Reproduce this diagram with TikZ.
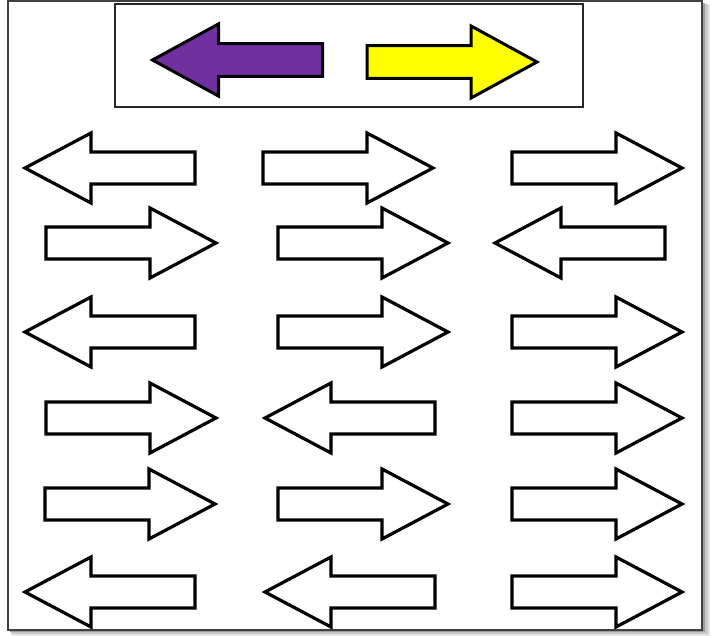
\documentclass[tikz,border=0pt]{standalone}
\usetikzlibrary{calc}
\definecolor{arrpurple}{HTML}{7030A0}
\definecolor{arryellow}{HTML}{FFFF00}
\def\arrfill{white}
\def\arrlw{3.2pt}
\tikzset{
  x=1pt,y=-1pt,
  arrline/.style={draw=black,line width=\arrlw,line join=miter,fill=\arrfill},
  rarr/.pic={\path[arrline] (-85,-16) -- (19,-16) -- (19,-35) -- (85,0) -- (19,35) -- (19,16) -- (-85,16) -- cycle;},
  larr/.pic={\path[arrline] (85,-16) -- (-19,-16) -- (-19,-35) -- (-85,0) -- (-19,35) -- (-19,16) -- (85,16) -- cycle;},
  keybox/.style={draw=black!85,line width=2.2pt},
  frameline/.style={draw=black!75,line width=1.3pt}
}
\begin{document}
\begin{tikzpicture}
\useasboundingbox (0,0) rectangle (715,636);
\fill[white] (0,0) rectangle (715,636);
% shadow of outer frame
\fill[black!10] (12,5) rectangle (710,636);
\fill[black!22] (11,4) rectangle (708,634);
\fill[black!38] (10,3) rectangle (705,632);
% outer frame
\path[frameline,fill=white] (8,1) rectangle (702,630);
% key box
\node[keybox,minimum width=468pt,minimum height=103pt,inner sep=0pt] (key) at (349,55.5) {};
\begin{scope}
\def\arrfill{arrpurple}\def\arrlw{3pt}
\pic[yscale=1.03] (purple) at (237.5,60) {larr};
\end{scope}
\begin{scope}
\def\arrfill{arryellow}\def\arrlw{3pt}
\pic[yscale=1.03] (yellow) at (452,62) {rarr};
\end{scope}
% row 1
\pic (r1c1) at (110,168) {larr};
\pic (r1c2) at (348,168) {rarr};
\pic (r1c3) at (597,168) {rarr};
% row 2
\pic (r2c1) at (131,243) {rarr};
\pic (r2c2) at (363,243) {rarr};
\pic (r2c3) at (580,243) {larr};
% row 3
\pic (r3c1) at (110,332) {larr};
\pic (r3c2) at (363,332) {rarr};
\pic (r3c3) at (597,332) {rarr};
% row 4
\pic (r4c1) at (131,418) {rarr};
\pic (r4c2) at (350,418) {larr};
\pic (r4c3) at (597,418) {rarr};
% row 5
\pic (r5c1) at (130,504) {rarr};
\pic (r5c2) at (363,504) {rarr};
\pic (r5c3) at (597,504) {rarr};
% row 6
\pic (r6c1) at (110,592) {larr};
\pic (r6c2) at (350,592) {larr};
\pic (r6c3) at (597,592) {rarr};
\end{tikzpicture}
\end{document}
